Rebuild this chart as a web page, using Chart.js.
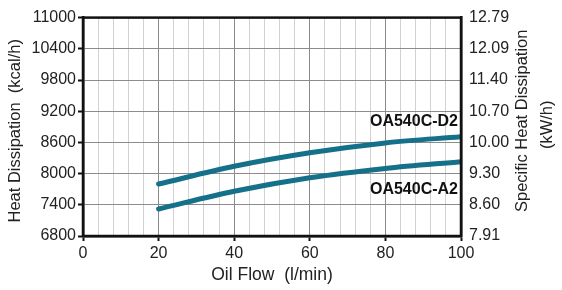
<!DOCTYPE html>
<html>
<head>
<meta charset="utf-8">
<script src="https://cdn.jsdelivr.net/npm/chart.js@4/dist/chart.umd.min.js"></script>
<style>
  body { margin: 0; background: #fff; }
  #wrap { width: 562px; height: 290px; }
</style>
</head>
<body>
<div id="wrap"><canvas id="heatChart" width="562" height="290"></canvas></div>
<script>
// oil flow (l/min) where the curves are read
const flow = [20, 40, 60, 80, 100];
// heat dissipation (kcal/h)
const d2Values = [7800, 8140, 8400, 8590, 8710];
const a2Values = [7320, 7660, 7920, 8100, 8230];
const seriesNames = ['OA540C-D2', 'OA540C-A2'];
// right axis labels (kW/h), one per left tick
const rightLabels = ['7.91', '8.60', '9.30', '10.00', '10.70', '11.40', '12.09', '12.79'];

const lineColor = '#15708a';
const font = "'Liberation Sans', Arial, Helvetica, sans-serif";

function toPoints(vals) {
    return flow.map((f, i) => ({ x: f, y: vals[i] }));
}

// frame, axis titles and curve names
const extras = {
    id: 'extras',
    afterDraw(chart) {
        const ctx = chart.ctx;
        const a = chart.chartArea;
        const xs = chart.scales.x;
        const ys = chart.scales.y;
        ctx.save();
        ctx.strokeStyle = '#111';
        ctx.lineWidth = 2.5;
        ctx.strokeRect(a.left, a.top, a.right - a.left, a.bottom - a.top);

        ctx.fillStyle = '#222';
        ctx.font = '17.5px ' + font;
        ctx.textAlign = 'center';
        ctx.textBaseline = 'middle';
        ctx.fillText('Oil Flow  (l/min)', (a.left + a.right) / 2, 275);

        ctx.font = '16.5px ' + font;
        const midY = (a.top + a.bottom) / 2;
        ctx.save();
        ctx.translate(15, midY + 4);
        ctx.rotate(-Math.PI / 2);
        ctx.fillText('Heat Dissipation  (kcal/h)', 0, 0);
        ctx.restore();

        ctx.save();
        ctx.translate(522, midY - 6);
        ctx.rotate(-Math.PI / 2);
        ctx.fillText('Specific Heat Dissipation', 0, 0);
        ctx.restore();
        ctx.save();
        ctx.translate(547, midY - 2);
        ctx.rotate(-Math.PI / 2);
        ctx.fillText('(kW/h)', 0, 0);
        ctx.restore();

        ctx.font = 'bold 16px ' + font;
        ctx.textAlign = 'right';
        ctx.fillStyle = '#111';
        const xr = xs.getPixelForValue(100) - 3;
        ctx.fillText(seriesNames[0], xr, ys.getPixelForValue(d2Values[d2Values.length - 1]) - 15);
        ctx.fillText(seriesNames[1], xr, ys.getPixelForValue(a2Values[a2Values.length - 1]) + 28);
        ctx.restore();
    }
};

new Chart(document.getElementById('heatChart'), {
    type: 'line',
    data: {
        datasets: [
            { label: seriesNames[0], data: toPoints(d2Values) },
            { label: seriesNames[1], data: toPoints(a2Values) }
        ]
    },
    options: {
        responsive: false,
        animation: false,
        layout: { padding: { top: 10, left: 0, right: 0, bottom: 0 } },
        elements: {
            line: { borderColor: lineColor, borderWidth: 5, borderCapStyle: 'round', cubicInterpolationMode: 'monotone' },
            point: { radius: 0 }
        },
        plugins: { legend: { display: false }, tooltip: { enabled: false } },
        scales: {
            x: {
                type: 'linear',
                min: 0,
                max: 100,
                afterFit: s => { s.height = 54; },
                ticks: {
                    stepSize: 4,
                    autoSkip: false,
                    maxRotation: 0,
                    padding: 3,
                    color: '#222',
                    font: { family: font, size: 16 },
                    callback: v => (v % 20 === 0 ? String(v) : '')
                },
                grid: {
                    color: c => (c.tick && c.tick.value % 20 === 0 ? '#8c8c8c' : '#d2d2d2'),
                    tickColor: c => (c.tick && c.tick.value % 20 === 0 ? '#111' : 'rgba(0,0,0,0)'),
                    tickLength: 5,
                    tickWidth: 2
                },
                border: { color: '#111', width: 2.5 }
            },
            y: {
                position: 'left',
                min: 6800,
                max: 11000,
                afterFit: s => { s.width = 83; },
                ticks: {
                    stepSize: 600,
                    padding: 2,
                    color: '#222',
                    font: { family: font, size: 16 },
                    callback: v => String(v)
                },
                grid: { color: '#8c8c8c', tickColor: '#111', tickLength: 5, tickWidth: 2 },
                border: { color: '#111', width: 2.5 }
            },
            y2: {
                position: 'right',
                min: 6800,
                max: 11000,
                afterFit: s => { s.width = 101; },
                ticks: {
                    stepSize: 600,
                    padding: 8,
                    color: '#222',
                    font: { family: font, size: 16 },
                    callback: (v, i) => rightLabels[i]
                },
                grid: { drawOnChartArea: false, drawTicks: false },
                border: { color: '#111', width: 2.5 }
            }
        }
    },
    plugins: [extras]
});
</script>
</body>
</html>
